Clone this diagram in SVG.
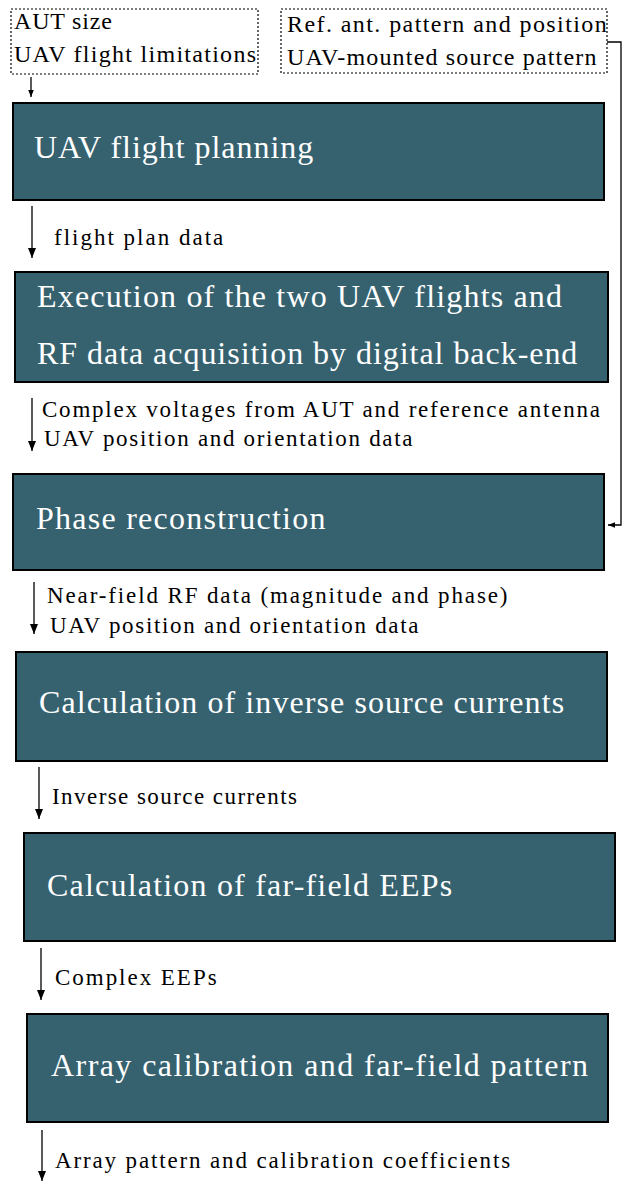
<svg xmlns="http://www.w3.org/2000/svg" width="624" height="1181" viewBox="0 0 624 1181">
<style>
.box{fill:#366270;stroke:#000;stroke-width:2}
.dash{fill:none;stroke:#000;stroke-width:1.2;stroke-dasharray:2 2}
.ln{fill:none;stroke:#000;stroke-width:1.3}
</style>
<defs>
<marker id="ah" viewBox="0 0 10 10" refX="10" refY="5" markerWidth="10" markerHeight="10" markerUnits="userSpaceOnUse" orient="auto"><path d="M0,1 L10,5 L0,9 Z" fill="#000"/></marker>
<marker id="ahs" viewBox="0 0 10 10" refX="10" refY="5" markerWidth="7" markerHeight="7" markerUnits="userSpaceOnUse" orient="auto"><path d="M0,1 L10,5 L0,9 Z" fill="#000"/></marker>
</defs>
<g id="input-aut" font-family="Liberation Serif" font-size="24" fill="#000">
<rect class="dash" x="11" y="9" width="247" height="65"/>
<text font-family="Liberation Serif" x="14" y="29" letter-spacing="0.8">AUT size</text>
<text font-family="Liberation Serif" x="14" y="62" letter-spacing="1.28">UAV flight limitations</text>
</g>
<g id="input-ref" font-family="Liberation Serif" font-size="24" fill="#000">
<rect class="dash" x="281" y="9" width="326" height="64"/>
<text font-family="Liberation Serif" x="287" y="32" letter-spacing="1.42">Ref. ant. pattern and position</text>
<text font-family="Liberation Serif" x="287" y="65" letter-spacing="1.18">UAV-mounted source pattern</text>
</g>
<g id="n1" font-family="Liberation Serif" font-size="32" fill="#fff">
<rect class="box" x="13" y="103" width="591" height="97"/>
<text font-family="Liberation Serif" x="34" y="158" letter-spacing="0.96">UAV flight planning</text>
</g>
<g id="n2" font-family="Liberation Serif" font-size="32" fill="#fff">
<rect class="box" x="15" y="272" width="593" height="110"/>
<text font-family="Liberation Serif" x="37" y="307" letter-spacing="1.17">Execution of the two UAV flights and</text>
<text font-family="Liberation Serif" x="37" y="364" letter-spacing="0.96">RF data acquisition by digital back-end</text>
</g>
<g id="n3" font-family="Liberation Serif" font-size="32" fill="#fff">
<rect class="box" x="13" y="474" width="591" height="96"/>
<text font-family="Liberation Serif" x="36" y="529" letter-spacing="1.25">Phase reconstruction</text>
</g>
<g id="n4" font-family="Liberation Serif" font-size="32" fill="#fff">
<rect class="box" x="16" y="652" width="591" height="109"/>
<text font-family="Liberation Serif" x="39" y="713" letter-spacing="1.08">Calculation of inverse source currents</text>
</g>
<g id="n5" font-family="Liberation Serif" font-size="32" fill="#fff">
<rect class="box" x="24" y="833" width="591" height="108"/>
<text font-family="Liberation Serif" x="47" y="896" letter-spacing="1.2">Calculation of far-field EEPs</text>
</g>
<g id="n6" font-family="Liberation Serif" font-size="32" fill="#fff">
<rect class="box" x="27" y="1014" width="581" height="108"/>
<text font-family="Liberation Serif" x="51" y="1076" letter-spacing="1.43">Array calibration and far-field pattern</text>
</g>
<g id="connectors" font-family="Liberation Serif" font-size="23" fill="#000">
<line class="ln" x1="31" y1="77" x2="31" y2="97" marker-end="url(#ahs)"/>
<polyline class="ln" points="607,42 621,42 621,525 608,525" marker-end="url(#ahs)"/>
<line class="ln" x1="32" y1="206" x2="32" y2="258" marker-end="url(#ah)"/>
<line class="ln" x1="32" y1="398" x2="32" y2="451" marker-end="url(#ah)"/>
<line class="ln" x1="34" y1="582" x2="34" y2="634" marker-end="url(#ah)"/>
<line class="ln" x1="39" y1="767" x2="39" y2="819" marker-end="url(#ah)"/>
<line class="ln" x1="41" y1="948" x2="41" y2="1000" marker-end="url(#ah)"/>
<line class="ln" x1="42" y1="1130" x2="42" y2="1181" marker-end="url(#ah)"/>
<text font-family="Liberation Serif" x="54" y="245" letter-spacing="2.0">flight plan data</text>
<text font-family="Liberation Serif" x="42" y="417" letter-spacing="1.78">Complex voltages from AUT and reference antenna</text>
<text font-family="Liberation Serif" x="44" y="446" letter-spacing="1.68">UAV position and orientation data</text>
<text font-family="Liberation Serif" x="47" y="603" letter-spacing="1.88">Near-field RF data (magnitude and phase)</text>
<text font-family="Liberation Serif" x="50" y="633" letter-spacing="1.68">UAV position and orientation data</text>
<text font-family="Liberation Serif" x="52" y="804" letter-spacing="1.44">Inverse source currents</text>
<text font-family="Liberation Serif" x="55" y="985" letter-spacing="1.97">Complex EEPs</text>
<text font-family="Liberation Serif" x="55" y="1168" letter-spacing="1.86">Array pattern and calibration coefficients</text>
</g>
</svg>
